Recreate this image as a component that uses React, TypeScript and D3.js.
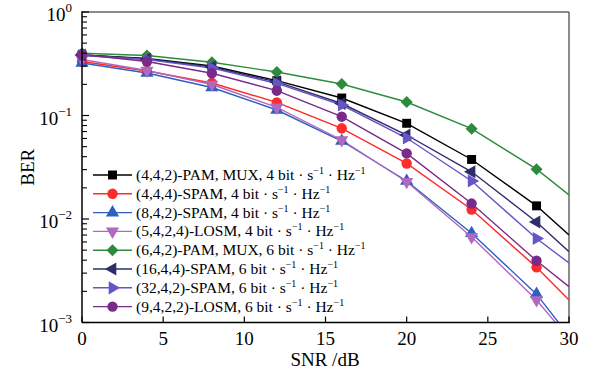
import React from 'react';
import * as d3 from 'd3';

const snr = [0, 4, 8, 12, 16, 20, 24, 28, 30];
const markerSnr = [0, 4, 8, 12, 16, 20, 24, 28];

const pamMux4 = [0.384, 0.355, 0.301, 0.217, 0.1476, 0.0841, 0.0376, 0.0134, 0.0070];
const spam444 = [0.332, 0.269, 0.206, 0.134, 0.0752, 0.0344, 0.01235, 0.00341, 0.00165];
const spam842 = [0.3215, 0.2574, 0.1865, 0.113, 0.0567, 0.0233, 0.00728, 0.00188, 0.00074];
const losm5424 = [0.3477, 0.272, 0.1994, 0.120, 0.058, 0.0229, 0.0067, 0.00165, 0.0007];
const pamMux6 = [0.399, 0.380, 0.327, 0.263, 0.2015, 0.135, 0.0746, 0.0303, 0.0171];
const spam1644 = [0.384, 0.3515, 0.294, 0.211, 0.1306, 0.0648, 0.0286, 0.00935, 0.00483];
const spam3242 = [0.380, 0.3475, 0.2876, 0.204, 0.1263, 0.0606, 0.0233, 0.00648, 0.00376];
const losm9422 = [0.388, 0.3325, 0.256, 0.1737, 0.0974, 0.0431, 0.0141, 0.00395, 0.00222];

const seriesNames = [
  '(4,4,2)-PAM, MUX, 4 bit',
  '(4,4,4)-SPAM, 4 bit',
  '(8,4,2)-SPAM, 4 bit',
  '(5,4,2,4)-LOSM, 4 bit',
  '(6,4,2)-PAM, MUX, 6 bit',
  '(16,4,4)-SPAM, 6 bit',
  '(32,4,2)-SPAM, 6 bit',
  '(9,4,2,2)-LOSM, 6 bit',
];
const seriesValues = [pamMux4, spam444, spam842, losm5424, pamMux6, spam1644, spam3242, losm9422];
const seriesColors = ['#000000', '#ff2a2a', '#2f5fbf', '#b068c0', '#2e8b3e', '#2e2e6a', '#6655c4', '#7a2a88'];
const seriesMarkers = ['square', 'circle', 'triUp', 'triDown', 'diamond', 'triLeft', 'triRight', 'circle'];

const xTicks = [0, 5, 10, 15, 20, 25, 30];
const yDecades = [-3, -2, -1, 0];

const W = 591, H = 372;
const L = 82, R = 569, T = 12, B = 322.5;
const SERIF = '"Liberation Serif", "Times New Roman", serif';

function markerPath(kind: string): string {
  switch (kind) {
    case 'square': return d3.symbol(d3.symbolSquare, 80)()!;
    case 'circle': return d3.symbol(d3.symbolCircle, 85)()!;
    case 'diamond': return 'M0,-6L6,0L0,6L-6,0Z';
    default: return d3.symbol(d3.symbolTriangle, 75)()!;
  }
}
function markerRot(kind: string): number {
  if (kind === 'triDown') return 180;
  if (kind === 'triLeft') return -90;
  if (kind === 'triRight') return 90;
  return 0;
}

export default function App() {
  const x = d3.scaleLinear().domain([0, 30]).range([L, R]);
  const y = d3.scaleLog().domain([1e-3, 1]).range([B, T]);
  const line = d3.line<[number, number]>().x(d => x(d[0])).y(d => y(d[1]));

  const minor: number[] = [];
  for (let e = -3; e < 0; e++) for (let m = 2; m <= 9; m++) minor.push(m * Math.pow(10, e));

  const legX = 93, legY0 = 175, legStep = 18.8;

  return (
    <svg width={W} height={H} style={{ display: 'block', position: 'absolute', left: 0, top: 0 }} fontFamily={SERIF}>
      <rect width={W} height={H} fill="#fff" />
      <defs>
        <clipPath id="plot"><rect x={L} y={T} width={R - L} height={B - T} /></clipPath>
      </defs>
      {/* frame */}
      <line x1={L} y1={T} x2={R} y2={T} stroke="#666" strokeWidth={1.5} />
      <line x1={R} y1={T} x2={R} y2={B} stroke="#666" strokeWidth={1.5} />
      {/* series */}
      <g clipPath="url(#plot)">
        {seriesValues.map((vals, i) => (
          <path key={i} d={line(snr.map((s, j) => [s, vals[j]] as [number, number]))!} fill="none"
            stroke={seriesColors[i]} strokeWidth={1.4} />
        ))}
      </g>
      {seriesValues.map((vals, i) => (
        <g key={i} fill={seriesColors[i]}>
          {markerSnr.map((s, j) => (
            <path key={j} d={markerPath(seriesMarkers[i])}
              transform={`translate(${x(s)},${y(vals[j])}) rotate(${markerRot(seriesMarkers[i])})`} />
          ))}
        </g>
      ))}
      {/* axes */}
      <line x1={L} y1={T - 0.75} x2={L} y2={B} stroke="#000" strokeWidth={1.5} />
      <line x1={L} y1={B} x2={R + 0.75} y2={B} stroke="#000" strokeWidth={1.5} />
      {xTicks.map(t => (
        <g key={t}>
          <line x1={x(t)} x2={x(t)} y1={B} y2={B - 6} stroke="#000" strokeWidth={1.2} />
          <text x={x(t)} y={B + 22.5} textAnchor="middle" fontSize={19}>{t}</text>
        </g>
      ))}
      {minor.map((v, i) => (
        <line key={i} x1={L} x2={L + 5} y1={y(v)} y2={y(v)} stroke="#000" strokeWidth={1.1} />
      ))}
      {yDecades.map(e => (
        <g key={e}>
          <line x1={L} x2={L + 7} y1={y(Math.pow(10, e))} y2={y(Math.pow(10, e))} stroke="#000" strokeWidth={1.2} />
          <text x={72} y={y(Math.pow(10, e)) + 9} textAnchor="end" fontSize={19}>
            10<tspan fontSize={13} dy={-9}>{e === 0 ? '0' : '\u2212' + Math.abs(e)}</tspan>
          </text>
        </g>
      ))}
      <text x={325} y={366} textAnchor="middle" fontSize={19}>SNR /dB</text>
      <text transform={`translate(34,${(T + B) / 2}) rotate(-90)`} textAnchor="middle" fontSize={19}>BER</text>
      {/* legend */}
      {seriesNames.map((name, i) => {
        const cy = legY0 + i * legStep;
        return (
          <g key={i}>
            <line x1={legX} x2={legX + 39} y1={cy} y2={cy} stroke={seriesColors[i]} strokeWidth={1.4} />
            <path d={markerPath(seriesMarkers[i])} fill={seriesColors[i]}
              transform={`translate(${legX + 19.5},${cy}) rotate(${markerRot(seriesMarkers[i])})`} />
            <text x={legX + 43} y={cy + 5} fontSize={15.5}>
              {name} · s<tspan fontSize={10} dy={-6}>{'\u22121'}</tspan>
              <tspan dy={6}> · Hz</tspan><tspan fontSize={10} dy={-6}>{'\u22121'}</tspan>
            </text>
          </g>
        );
      })}
    </svg>
  );
}
